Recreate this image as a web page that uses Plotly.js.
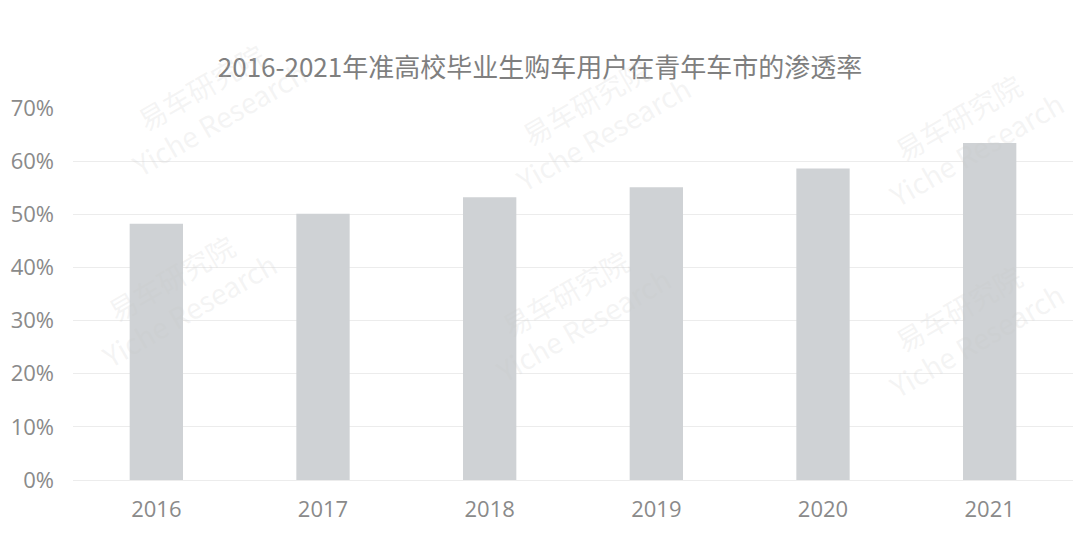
<!DOCTYPE html>
<html>
<head>
<meta charset="utf-8">
<script src="https://cdn.plot.ly/plotly-3.0.1.min.js"></script>
<style>html,body{margin:0;padding:0;background:#fff;}#chart{width:1080px;height:534px;}</style>
</head>
<body>
<div id="chart"></div>
<script>
const years = ["2016", "2017", "2018", "2019", "2020", "2021"];
const penetration = [0.482, 0.501, 0.532, 0.551, 0.586, 0.634];
const titleText = "2016-2021年准高校毕业生购车用户在青年车市的渗透率";
const watermarkText = "易车研究院<br>Yiche Research";

const wmPos = [[0.03, 1.24], [0.52, 1.2], [1.0, 1.16], [0.0, 0.5], [0.5, 0.46], [1.0, 0.42]];
const annotations = wmPos.map(p => ({
  xref: "paper", yref: "paper", x: p[0], y: p[1],
  text: watermarkText, showarrow: false, textangle: -30,
  font: {family: "Noto Sans CJK SC, sans-serif", size: 28, color: "rgba(200,200,200,0.2)"}
}));

const trace = {
  type: "bar", x: years, y: penetration,
  marker: {color: "#cfd2d5"},
  hoverinfo: "skip"
};
const layout = {
  width: 1080, height: 534,
  margin: {l: 73, r: 7, t: 108, b: 54},
  paper_bgcolor: "#ffffff", plot_bgcolor: "#ffffff",
  bargap: 0.68,
  showlegend: false,
  title: {text: titleText, x: 0.5, xanchor: "center", y: 0.873, yanchor: "middle",
    font: {family: "Noto Sans CJK SC, sans-serif", size: 26, color: "#7f7f7f"}},
  xaxis: {type: "category", showgrid: false, zeroline: false, showline: false, ticks: "", ticklabelstandoff: 14,
    tickfont: {family: "Open Sans, Noto Sans CJK SC, sans-serif", size: 22, color: "#8a8a8a"}},
  yaxis: {range: [0, 0.7], dtick: 0.1, tickformat: ".0%", showgrid: true, gridcolor: "#ececec", gridwidth: 1,
    zeroline: true, zerolinecolor: "#ececec", showline: false, ticks: "", ticklabelstandoff: 18,
    tickfont: {family: "Open Sans, Noto Sans CJK SC, sans-serif", size: 22, color: "#8a8a8a"}},
  annotations: annotations
};
Plotly.newPlot("chart", [trace], layout, {displayModeBar: false, staticPlot: true});
</script>
</body>
</html>
